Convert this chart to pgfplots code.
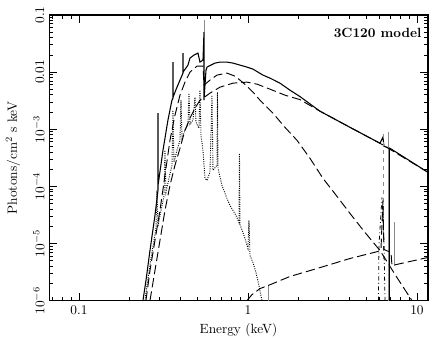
\documentclass[border=0pt]{standalone}
\usepackage{pgfplots}
\pgfplotsset{compat=1.18}
\begin{document}
\begin{tikzpicture}
\begin{axis}[
    name=main,
    scale only axis,
    width=284pt, height=214pt,
    xmode=log, ymode=log,
    xmin=0.0665, xmax=11.62, ymin=1e-6, ymax=0.1,
    xtick={0.1,1,10}, xticklabels={0.1,1,10},
    ytick={1e-6,1e-5,1e-4,1e-3,0.01,0.1},
    yticklabels={$10^{-6}$,$10^{-5}$,$10^{-4}$,$10^{-3}$,0.01,0.1},
    minor xtick={0.07,0.08,0.09,0.2,0.3,0.4,0.5,0.6,0.7,0.8,0.9,2,3,4,5,6,7,8,9},
    minor ytick={2e-6,3e-6,4e-6,5e-6,6e-6,7e-6,8e-6,9e-6,
                 2e-5,3e-5,4e-5,5e-5,6e-5,7e-5,8e-5,9e-5,
                 2e-4,3e-4,4e-4,5e-4,6e-4,7e-4,8e-4,9e-4,
                 2e-3,3e-3,4e-3,5e-3,6e-3,7e-3,8e-3,9e-3,
                 0.02,0.03,0.04,0.05,0.06,0.07,0.08,0.09},
    yticklabel style={rotate=90, anchor=south},
    major tick length=6pt, minor tick length=3pt,
    tick style={black, line width=0.6pt},
    axis line style={line width=0.8pt},
    xlabel={Energy (keV)},
    ylabel={Photons/cm$^2$ s keV},
    ylabel style={at={(axis description cs:-0.095,0.5)}, anchor=center},
]
% total model
\addplot[black, line width=0.8pt] coordinates {
    (0.2391,1e-6) (0.2491,2.24e-6) (0.2631,7.54e-6) (0.2816,3.10e-5)
    (0.2934,8.51e-5) (0.2935,1.91e-3) (0.2936,1.04e-4)
    (0.3141,4.28e-4) (0.3361,1.44e-3) (0.3550,3.23e-3)
    (0.3599,3.50e-3) (0.3600,0.01497) (0.3601,3.64e-3)
    (0.3802,5.45e-3) (0.3960,7.24e-3)
    (0.4125,9.60e-3) (0.4126,0.02154) (0.4127,0.0100)
    (0.4415,0.01327) (0.4537,0.01760) (0.4791,0.01987) (0.5059,0.02154)
    (0.5200,0.01497) (0.5417,0.01624) (0.5492,0.0503) (0.5493,3.23e-3)
    (0.5644,0.01084) (0.5721,0.01224) (0.6377,0.01438) (0.6828,0.01497)
    (0.7509,0.01497) (0.8152,0.01438) (0.8968,0.01327) (0.9865,0.01224)
    (1.0705,0.01129) (1.2267,0.00886) (1.3495,0.00785) (1.5464,0.00641)
    (1.7718,0.00483) (2.0304,0.00373) (2.6669,0.00207) (4.0132,0.00108)
    (6.0402,5.68e-4) (6.2912,7.24e-4) (6.377,5.03e-4) (6.9222,4.64e-4)
    (11.616,1.76e-4)
};
\addplot[black, line width=0.8pt] coordinates {(6.92,4.6e-4) (6.92,1e-6)};
% grey spikes
\addplot[black!45, line width=0.6pt] coordinates {(0.5492,0.0503) (0.5492,0.0818)};
\addplot[black!45, line width=0.5pt, dashed] coordinates {(6.29,5.45e-6) (6.29,8.86e-4)};
\addplot[black!45, line width=0.5pt] coordinates {(6.735,1e-6) (6.735,8.86e-4)};
\addplot[black!45, line width=0.5pt] coordinates {(7.31,4.11e-6) (7.31,2.34e-5)};
\addplot[black!45, line width=0.5pt] coordinates {(1.313,1e-6) (1.313,1.9e-6)};
% power law
\addplot[black, line width=0.7pt, dash pattern=on 7pt off 3pt] coordinates {
    (0.2631,1e-6) (0.2816,3.36e-6) (0.3015,1.13e-5) (0.3227,3.79e-5)
    (0.3455,1.04e-4) (0.3699,2.34e-4) (0.3960,4.64e-4) (0.4239,9.60e-4)
    (0.4537,1.56e-3) (0.4859,2.34e-3) (0.5200,3.23e-3) (0.5417,3.50e-3)
    (0.5957,4.28e-3) (0.6828,5.45e-3) (0.8152,6.41e-3) (0.9865,6.68e-3)
    (1.1305,6.16e-3) (1.3495,5.03e-3) (1.655,3.95e-3) (2.0304,3.30e-3)
    (2.6669,2.07e-3) (4.0132,1.08e-3) (6.0402,5.68e-4) (11.616,1.76e-4)
};
% soft component
\addplot[black, line width=0.7pt, dash pattern=on 7pt off 3pt] coordinates {
    (0.2491,1e-6) (0.2631,3.36e-6) (0.2816,1.13e-5) (0.3015,3.79e-5)
    (0.3227,1.56e-4) (0.3455,6.41e-4) (0.3699,1.76e-3) (0.3960,3.95e-3)
    (0.4239,6.68e-3) (0.4537,0.0100) (0.4990,0.01274) (0.5417,0.01274)
    (0.5492,5.91e-3) (0.5957,7.24e-3) (0.6555,8.86e-3) (0.7509,9.60e-3)
    (0.8376,8.51e-3) (0.8968,7.24e-3) (0.9865,5.68e-3) (1.0705,4.46e-3)
    (1.1776,3.23e-3) (1.4057,1.91e-3) (1.655,1.08e-3) (1.9498,6.41e-4)
    (2.327,3.10e-4) (2.7782,1.38e-4) (3.362,6.68e-5) (4.0132,3.36e-5)
    (4.923,1.56e-5) (6.0402,7.54e-6) (7.6149,2.53e-6) (9.342,1e-6)
};
% reflection
\addplot[black, line width=0.7pt, dash pattern=on 7pt off 3pt] coordinates {
    (0.9865,1e-6) (1.056,1.27e-6) (1.1776,1.62e-6) (1.3132,1.83e-6)
    (1.7718,2.64e-6) (2.5603,3.64e-6) (4.0132,5.45e-6) (5.8770,7.24e-6)
    (6.124,7.85e-6) (6.2912,5.68e-5) (6.377,7.85e-6) (7.018,6.95e-6)
    (7.1135,4.11e-6) (11.616,5.68e-6)
};
% Fe K line
\addplot[black, line width=0.6pt, dash dot] coordinates {
    (5.918,1e-6) (5.9573,9.22e-6) (6.208,6.41e-5) (6.377,1.13e-5) (6.466,1e-6)
};
% line emission
\addplot[black, line width=0.7pt, densely dotted] coordinates {
    (0.2457,1e-6) (0.2561,2.43e-6) (0.2667,5.45e-6) (0.2778,1.13e-5)
    (0.2855,1.83e-5) (0.2894,8.51e-5) (0.2934,1.99e-5) (0.3056,3.79e-5)
    (0.3184,6.68e-5) (0.3227,4.28e-4) (0.3271,7.85e-5) (0.3407,1.38e-4)
    (0.3550,2.34e-4) (0.3599,2.15e-3) (0.3648,2.64e-4) (0.3802,4.28e-4)
    (0.3960,6.41e-4) (0.4014,3.23e-3) (0.4070,6.95e-4) (0.4239,9.60e-4)
    (0.4415,1.18e-3) (0.4476,4.28e-3) (0.4537,1.22e-3) (0.4727,1.44e-3)
    (0.4859,3.64e-3) (0.4925,1.33e-3) (0.5129,1.04e-3) (0.5200,4.83e-3)
    (0.5272,7.85e-4) (0.5417,4.28e-4) (0.5567,1.38e-4) (0.5721,1.27e-4)
    (0.5957,1.76e-4) (0.6123,3.95e-3) (0.6208,1.91e-4) (0.6555,2.34e-4)
    (0.6600,4.46e-3) (0.6645,2.07e-4) (0.7019,1.04e-4) (0.7509,6.16e-5)
    (0.7825,4.64e-5) (0.8492,3.10e-5) (0.8846,2.34e-5) (0.8906,3.79e-4)
    (0.8968,2.15e-5) (0.9470,1.38e-5) (1.0,8.18e-6) (1.0137,2.53e-5)
    (1.0276,6.16e-6) (1.0705,4.64e-6) (1.1151,3.10e-6) (1.1616,1.83e-6)
    (1.2100,1e-6)
};
\node[anchor=east, font=\bfseries] at (axis description cs:0.995,0.937) {3C120 model};
\end{axis}
\pgfresetboundingbox
\path ([xshift=-36.75pt,yshift=-27.75pt]main.south west) rectangle ([xshift=6pt,yshift=11.25pt]main.north east);
\end{tikzpicture}
\end{document}
